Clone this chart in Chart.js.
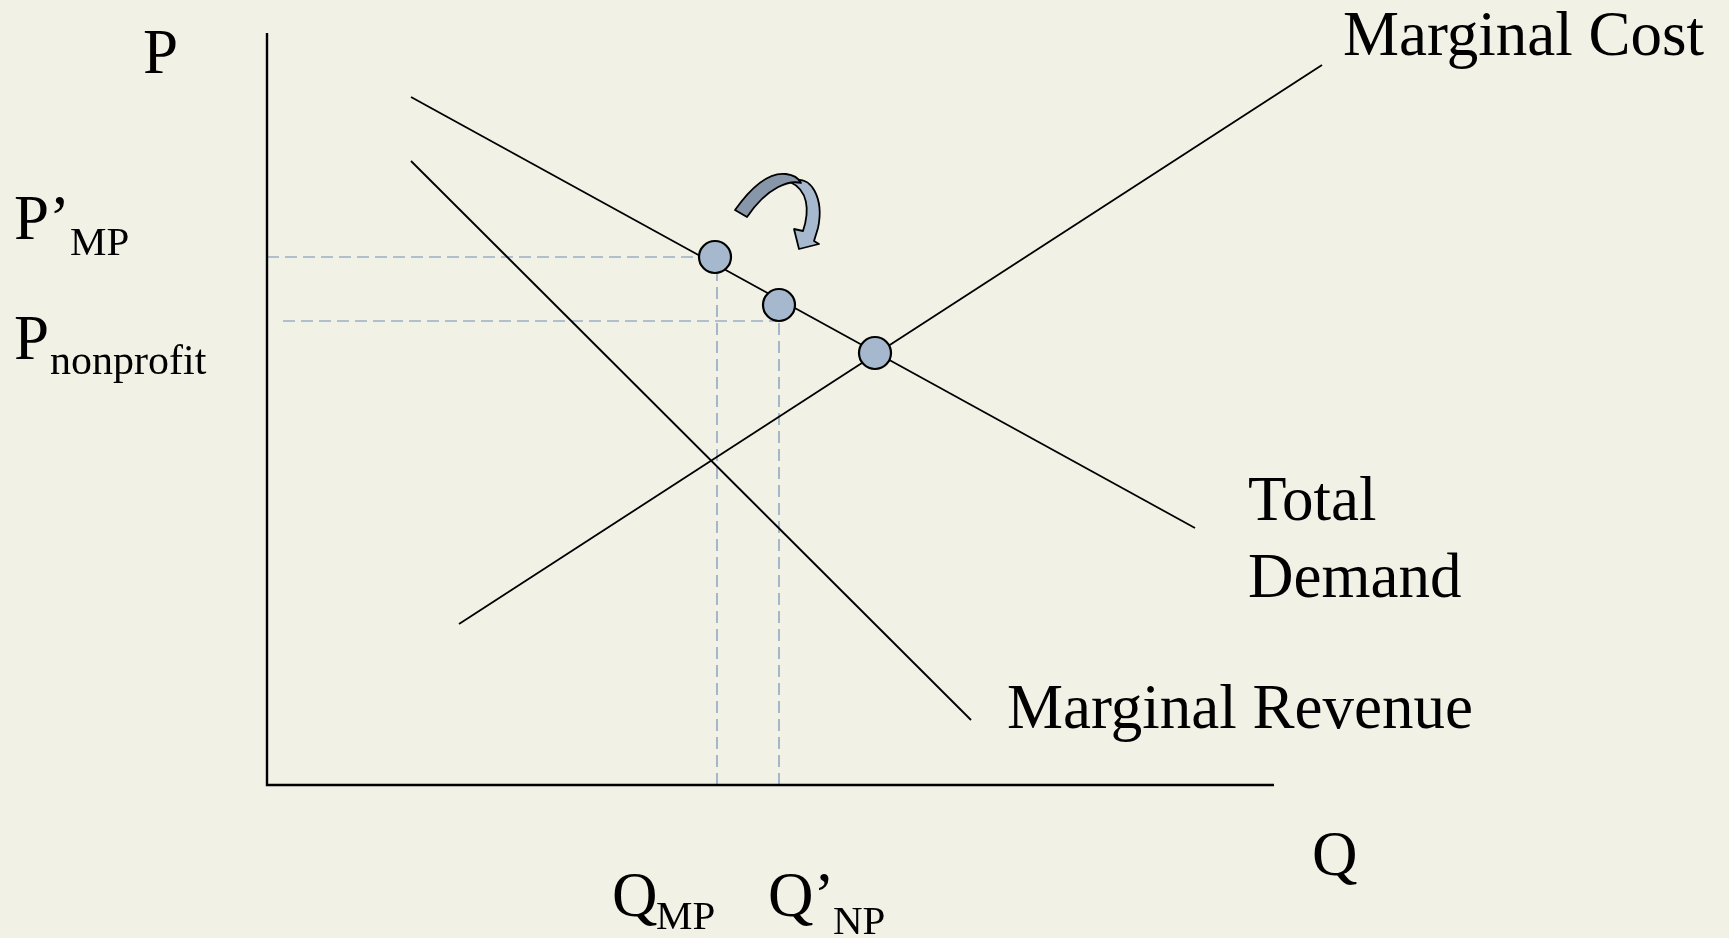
<!DOCTYPE html>
<html>
<head>
<meta charset="utf-8">
<script src="https://cdn.jsdelivr.net/npm/chart.js@4/dist/chart.umd.min.js"></script>
<style>
  html, body { margin: 0; padding: 0; background: #f2f1e6; }
  canvas { display: block; }
</style>
</head>
<body>
<canvas id="c" width="1729" height="938"></canvas>
<script>
// ---- data (Q on x, P on y) ----
const demandQ = [14.4, 92.8];
const demandP = [68.8, 25.7];
const mrQ = [14.4, 70.4];
const mrP = [62.4, 6.5];
const mcQ = [19.2, 105.5];
const mcP = [16.1, 72.0];
const pointQ = [44.8, 51.2, 60.8];
const pointP = [52.8, 48.0, 43.2];
const qMP = 45.0, qNP = 51.2;
const pMP = 52.8, pNP = 46.4;
const qAxisMax = 100.7, pAxisMax = 75.2;
const curveLabels = ["Marginal Cost", "Total", "Demand", "Marginal Revenue"];
const axisLabels = ["P", "Q"];
const tickLabels = [["P’", "MP"], ["P", "nonprofit"], ["Q", "MP"], ["Q’", "NP"]];

const pts = (xs, ys) => xs.map((x, i) => ({ x: x, y: ys[i] }));

const BG = '#f2f1e6';
const DASH = '#9aadc5';
const serif = '"Liberation Serif", "DejaVu Serif", serif';

const bgPlugin = {
  id: 'bg',
  beforeDraw(chart) {
    const ctx = chart.ctx;
    ctx.save();
    ctx.fillStyle = BG;
    ctx.fillRect(0, 0, chart.width, chart.height);
    ctx.restore();
  }
};

const labelPlugin = {
  id: 'labels',
  afterDraw(chart) {
    const ctx = chart.ctx;
    const xs = chart.scales.x, ys = chart.scales.y;
    ctx.save();
    ctx.fillStyle = '#000';
    ctx.textAlign = 'left';
    ctx.textBaseline = 'alphabetic';
    const big = '63px ' + serif;
    const sub = '41px ' + serif;
    const txt = (t, x, y, f) => { ctx.font = f; ctx.fillText(t, x, y); };

    // axis titles
    txt(axisLabels[0], 143, 73, big);
    txt(axisLabels[1], 1312, 875, big);

    // curve labels
    txt(curveLabels[0], 1343, 55, big);
    txt(curveLabels[1], 1248, 520, big);
    txt(curveLabels[2], 1248, 597, big);
    txt(curveLabels[3], 1007, 728, big);

    // price labels
    txt(tickLabels[0][0], 14, 239, big);
    txt(tickLabels[0][1], 70, 255, sub);
    txt(tickLabels[1][0], 14, 359, big);
    txt(tickLabels[1][1], 50, 374, '42px ' + serif);

    // quantity labels
    const xm = xs.getPixelForValue(qMP), xn = xs.getPixelForValue(qNP);
    txt(tickLabels[2][0], xm - 105, 916, big);
    txt(tickLabels[2][1], xm - 61, 929, sub);
    txt(tickLabels[3][0], xn - 11, 916, big);
    txt(tickLabels[3][1], xn + 54, 934, sub);

    // curved arrow near the first point
    const ax = xs.getPixelForValue(pointQ[0]), ay = ys.getPixelForValue(pointP[0]);
    const P = (x, y) => [ax + (x - 715), ay + (y - 257)];
    ctx.lineWidth = 1.8;
    ctx.strokeStyle = '#000';
    ctx.lineJoin = 'round';

    // light part (right, with head)
    ctx.beginPath();
    let p = P(790, 182);
    ctx.moveTo(p[0], p[1]);
    let a = P(812, 172), b = P(824, 200), c = P(818, 228);
    ctx.bezierCurveTo(a[0], a[1], b[0], b[1], c[0], c[1]);
    p = P(814, 241); ctx.lineTo(p[0], p[1]);
    p = P(819, 244); ctx.lineTo(p[0], p[1]);
    p = P(799, 249); ctx.lineTo(p[0], p[1]);
    p = P(794, 229); ctx.lineTo(p[0], p[1]);
    p = P(803, 231); ctx.lineTo(p[0], p[1]);
    a = P(810, 210); b = P(808, 190); c = P(790, 182);
    ctx.bezierCurveTo(a[0], a[1], b[0], b[1], c[0], c[1]);
    ctx.closePath();
    ctx.fillStyle = '#a7b9cf';
    ctx.fill();
    ctx.stroke();

    // dark part (left, tail)
    ctx.beginPath();
    p = P(735, 210); ctx.moveTo(p[0], p[1]);
    a = P(752, 186); b = P(770, 172); c = P(786, 174);
    ctx.bezierCurveTo(a[0], a[1], b[0], b[1], c[0], c[1]);
    a = P(794, 175); b = P(799, 179); c = P(801, 183);
    ctx.bezierCurveTo(a[0], a[1], b[0], b[1], c[0], c[1]);
    a = P(790, 180); b = P(768, 186); c = P(747, 217);
    ctx.bezierCurveTo(a[0], a[1], b[0], b[1], c[0], c[1]);
    ctx.closePath();
    ctx.fillStyle = '#8796a8';
    ctx.fill();
    ctx.stroke();
    ctx.restore();
  }
};

const lineDs = (data, order) => ({
  data: data, showLine: true, borderColor: '#000', borderWidth: 1.8,
  pointRadius: 0, pointHoverRadius: 0, fill: false, order: order, clip: false
});
const dashDs = (data) => ({
  data: data, showLine: true, borderColor: DASH, borderWidth: 1.7,
  borderDash: [12, 6], pointRadius: 0, pointHoverRadius: 0, fill: false, order: 3, clip: false
});

new Chart(document.getElementById('c'), {
  type: 'scatter',
  data: {
    datasets: [
      // reference (dashed) lines
      dashDs([{ x: 0, y: pMP }, { x: qMP, y: pMP }]),
      dashDs([{ x: 1.6, y: pNP }, { x: qNP, y: pNP }]),
      dashDs([{ x: qMP, y: 0 }, { x: qMP, y: pMP }]),
      dashDs([{ x: qNP, y: 0 }, { x: qNP, y: pNP }]),
      // axes
      Object.assign(lineDs([{ x: 0, y: pAxisMax }, { x: 0, y: 0 }, { x: qAxisMax, y: 0 }], 2), { borderWidth: 2.4 }),
      // curves
      lineDs(pts(demandQ, demandP), 1),
      lineDs(pts(mrQ, mrP), 1),
      lineDs(pts(mcQ, mcP), 1),
      // points
      {
        data: pts(pointQ, pointP), showLine: false, pointRadius: 16, pointHoverRadius: 16,
        pointBackgroundColor: '#a6b8cd', pointBorderColor: '#000', pointBorderWidth: 2.2,
        order: 0, clip: false
      }
    ]
  },
  options: {
    responsive: false,
    animation: false,
    events: [],
    layout: { autoPadding: false, padding: { left: 267, top: 33, right: 0, bottom: 153 } },
    scales: {
      x: { type: 'linear', display: false, min: 0, max: 146.2 },
      y: { type: 'linear', display: false, min: 0, max: 75.2 }
    },
    plugins: { legend: { display: false }, tooltip: { enabled: false }, title: { display: false } }
  },
  plugins: [bgPlugin, labelPlugin]
});
</script>
</body>
</html>
